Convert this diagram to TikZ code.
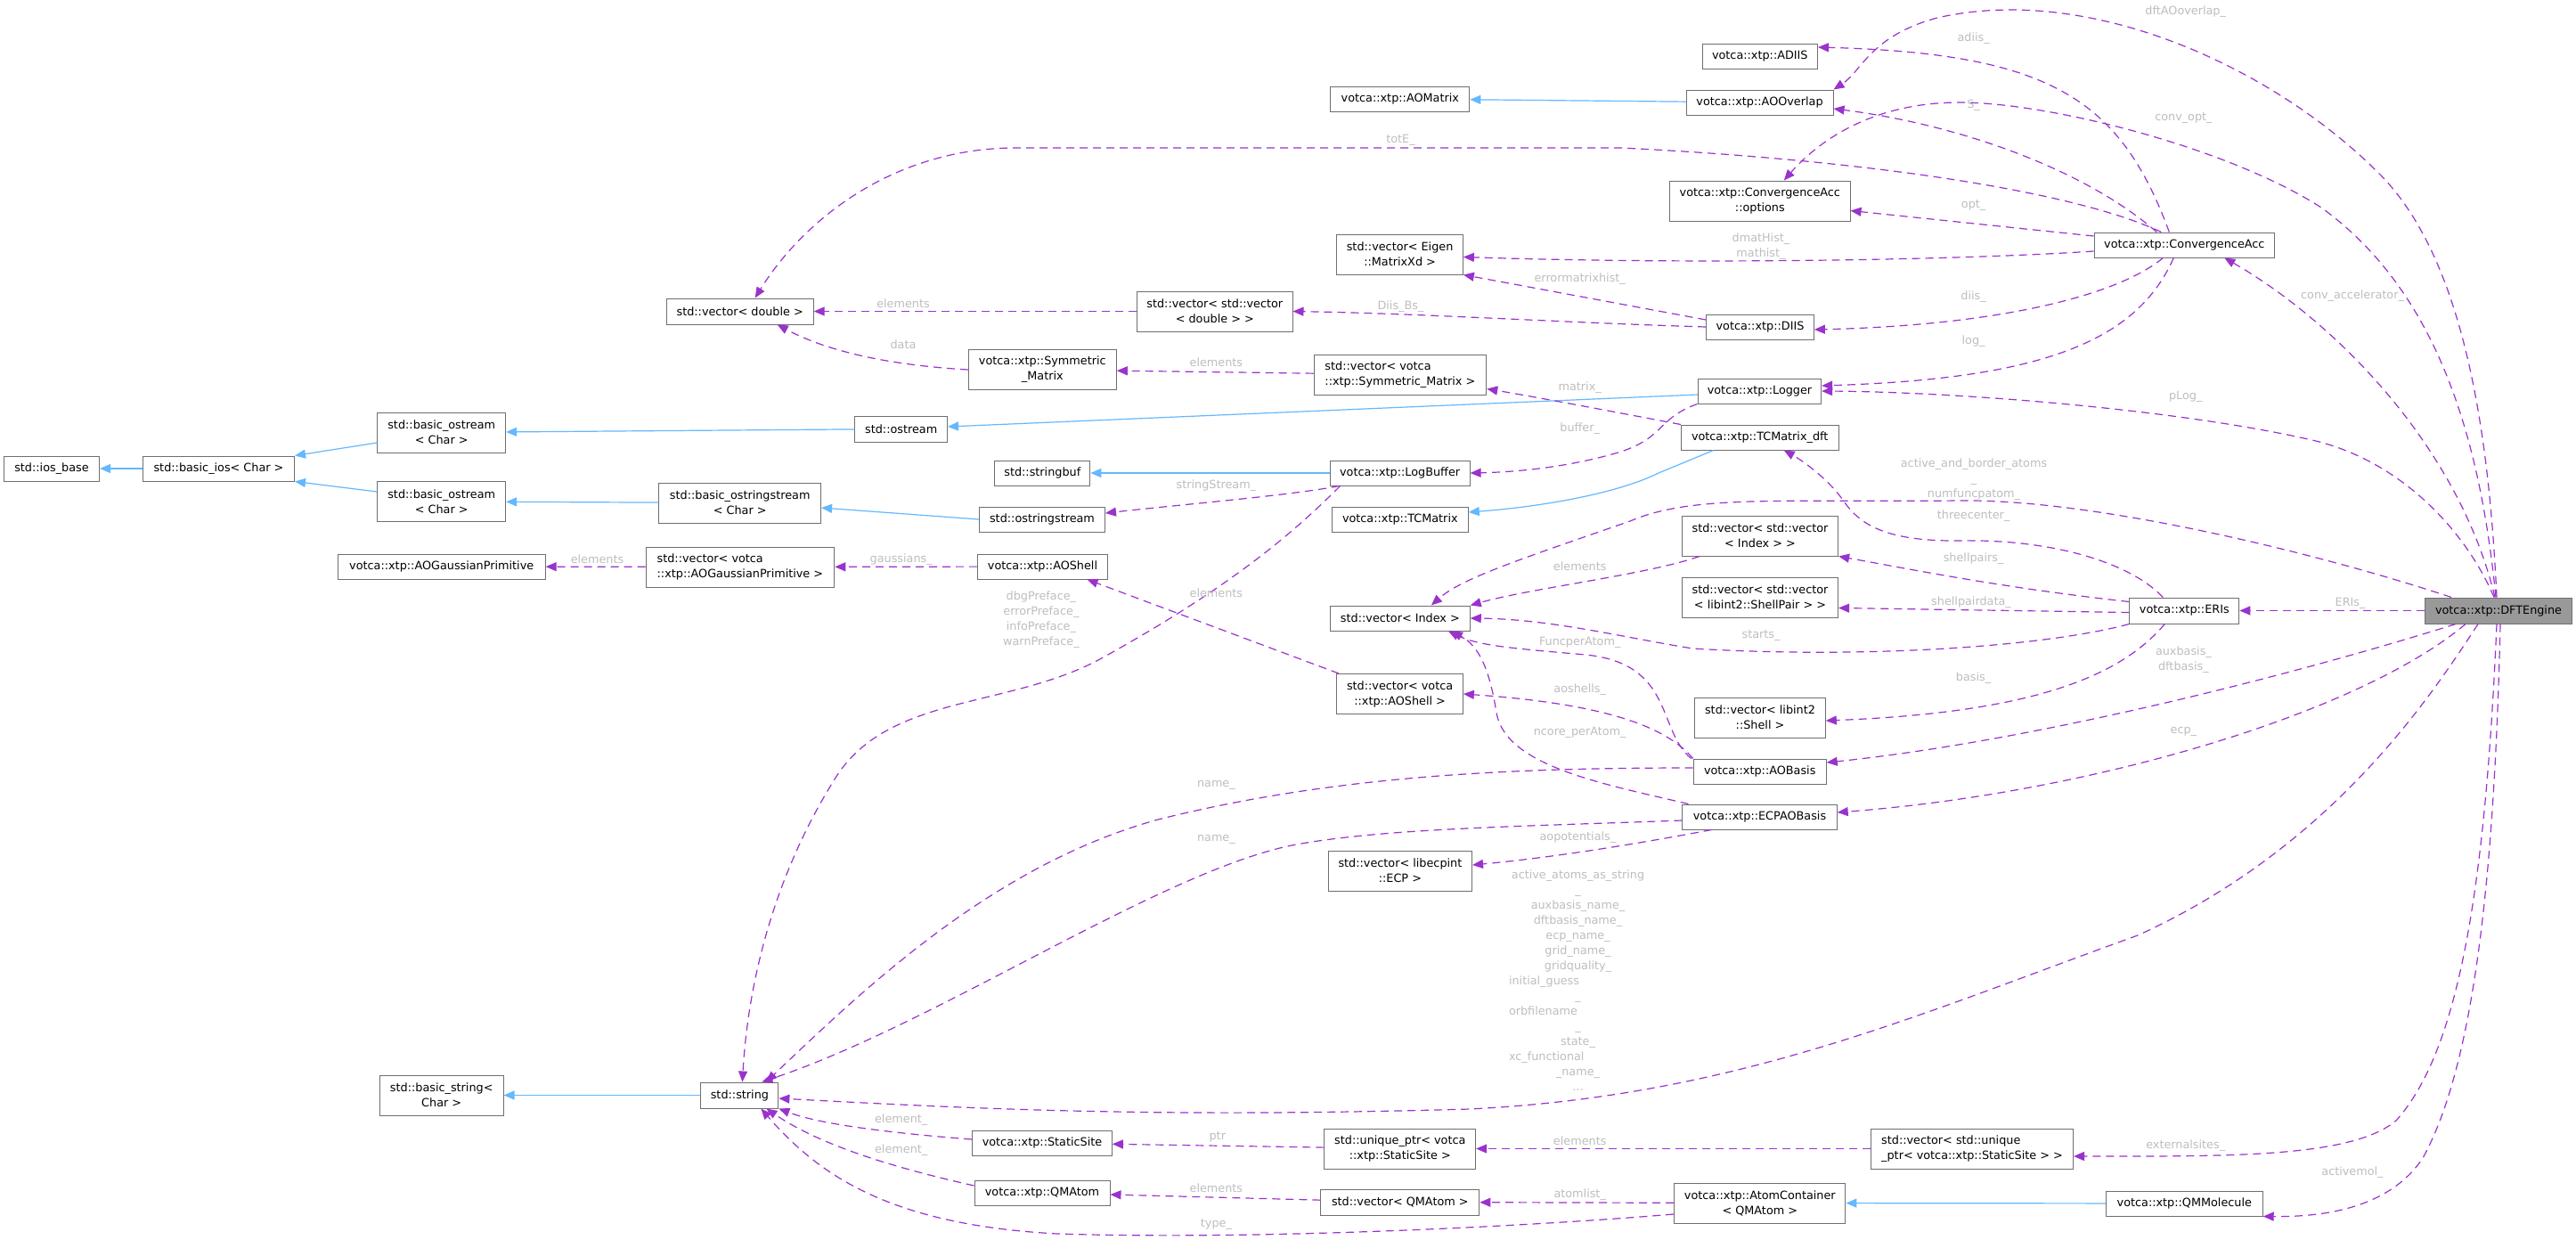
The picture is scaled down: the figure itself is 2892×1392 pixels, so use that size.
\documentclass[tikz,border=0pt]{standalone}
\usepackage{fontspec}
\setmainfont{DejaVu Sans}
\usetikzlibrary{arrows.meta}

\definecolor{edgepurple}{HTML}{9A32CD}
\definecolor{inheritblue}{HTML}{63B8FF}
\definecolor{boxborder}{HTML}{6E6E6E}
\definecolor{mainfill}{HTML}{999999}
\definecolor{labelgray}{HTML}{BEBEBE}

\newcommand{\dotfont}{\fontsize{12.8}{17}\selectfont}

\begin{document}
\begin{tikzpicture}[x=1pt, y=-1pt,
    % Node styles
    cls/.style={draw=boxborder, line width=1pt, fill=white, inner sep=0pt, align=center, font=\dotfont, minimum height=28pt},
    cls2/.style={cls, minimum height=45pt},
    main/.style={cls, fill=mainfill},
    lbl/.style={inner sep=0pt, font=\dotfont, text=labelgray, align=center},
    % Arrow styles
    inherit/.style={-{Triangle[length=12pt,width=10pt]}, line width=1.2pt, draw=inheritblue},
    usage/.style={-{Triangle[length=12pt,width=10pt]}, line width=1.2pt, draw=edgepurple, dash pattern=on 9pt off 6pt},
  ]
  \path[use as bounding box, fill=white] (0,0) rectangle (2892,1392);

  % Classes, left part
  \node[cls, minimum width=107pt] (iosbase) at (58,526) {std::ios\_base};
  \node[cls, minimum width=170pt] (basicios) at (245.5,526) {std::basic\_ios< Char >};
  \node[cls2, minimum width=144pt] (ostreamA) at (495.7,485.5) {std::basic\_ostream\\< Char >};
  \node[cls2, minimum width=144pt] (ostreamB) at (495.7,563) {std::basic\_ostream\\< Char >};
  \node[cls, minimum width=233pt] (gaussprim) at (495.7,636) {votca::xtp::AOGaussianPrimitive};
  \node[cls2, minimum width=138.7pt] (basicstring) at (495.7,1229.5) {std::basic\_string<\\Char >};
  \node[cls, minimum width=165pt, minimum height=29pt] (vecdouble) at (830.7,349.5) {std::vector< double >};
  \node[cls2, minimum width=181.7pt] (ostringbase) at (830.7,564.5) {std::basic\_ostringstream\\< Char >};
  \node[cls2, minimum width=211.8pt, align=left] (vecgauss) at (830.9,636.5) {std::vector< votca\\::xtp::AOGaussianPrimitive >};
  \node[cls, minimum width=87pt, minimum height=29pt] (stdstring) at (830.4,1229.5) {std::string};
  \node[cls, minimum width=103.6pt, minimum height=29pt] (ostream) at (1011.7,481.5) {std::ostream};
  \node[cls2, minimum width=166pt] (symmat) at (1170.3,415) {votca::xtp::Symmetric\\\_Matrix};
  \node[cls, minimum width=107pt] (stringbuf) at (1170.3,531) {std::stringbuf};
  \node[cls, minimum width=141pt] (ostringstream) at (1170,583) {std::ostringstream};
  \node[cls, minimum width=145.7pt] (aoshell) at (1170.5,636) {votca::xtp::AOShell};
  \node[cls, minimum width=156.7pt] (staticsite) at (1170,1283) {votca::xtp::StaticSite};
  \node[cls, minimum width=152pt] (qmatom) at (1170,1339) {votca::xtp::QMAtom};
  \node[cls2, minimum width=174.4pt] (vecvecdouble) at (1363.8,349.5) {std::vector< std::vector\\< double > >};

  % Classes, middle part
  \node[cls, minimum width=156pt] (aomatrix) at (1571.8,111) {votca::xtp::AOMatrix};
  \node[cls2, minimum width=141.5pt] (veceigen) at (1571.6,285.5) {std::vector< Eigen\\::MatrixXd >};
  \node[cls2, minimum width=193.7pt, align=left] (vecsymmat) at (1571.9,420.5) {std::vector< votca\\::xtp::Symmetric\_Matrix >};
  \node[cls, minimum width=157pt] (logbuffer) at (1571.6,531) {votca::xtp::LogBuffer};
  \node[cls, minimum width=153pt] (tcmatrix) at (1571.8,583) {votca::xtp::TCMatrix};
  \node[cls, minimum width=156.7pt] (vecindex) at (1571.9,694) {std::vector< Index >};
  \node[cls2, minimum width=141.5pt] (vecaoshell) at (1571.6,779) {std::vector< votca\\::xtp::AOShell >};
  \node[cls2, minimum width=161.3pt] (vececp) at (1571.9,977.5) {std::vector< libecpint\\::ECP >};
  \node[cls2, minimum width=169.7pt] (uniqueptr) at (1571.8,1289.5) {std::unique\_ptr< votca\\::xtp::StaticSite >};
  \node[cls, minimum width=178pt, minimum height=29pt] (vecqmatom) at (1571.8,1349.5) {std::vector< QMAtom >};

  \node[cls, minimum width=129.5pt] (adiis) at (1975.8,63) {votca::xtp::ADIIS};
  \node[cls, minimum width=165pt] (aooverlap) at (1975.5,115) {votca::xtp::AOOverlap};
  \node[cls2, minimum width=202.5pt] (options) at (1975.8,225.5) {votca::xtp::ConvergenceAcc\\::options};
  \node[cls, minimum width=120.7pt] (diis) at (1976,367) {votca::xtp::DIIS};
  \node[cls, minimum width=138.3pt] (logger) at (1975.5,439) {votca::xtp::Logger};
  \node[cls, minimum width=176.6pt] (tcdft) at (1975.7,491) {votca::xtp::TCMatrix\_dft};
  \node[cls2, minimum width=175.2pt] (vecvecindex) at (1976,601.5) {std::vector< std::vector\\< Index > >};
  \node[cls2, minimum width=175.2pt] (vecshellpair) at (1976,670.5) {std::vector< std::vector\\< libint2::ShellPair > >};
  \node[cls2, minimum width=146.6pt] (vecshell) at (1976,805.5) {std::vector< libint2\\::Shell >};
  \node[cls, minimum width=149pt] (aobasis) at (1975.7,866) {votca::xtp::AOBasis};
  \node[cls, minimum width=173.4pt] (ecpaobasis) at (1975.5,917) {votca::xtp::ECPAOBasis};
  \node[cls2, minimum width=192.3pt] (atomcontainer) at (1975.8,1350.5) {votca::xtp::AtomContainer\\< QMAtom >};
  \node[cls2, minimum width=227pt, align=left] (vecuniqueptr) at (2214,1289.5) {std::vector< std::unique\\\_ptr< votca::xtp::StaticSite > >};

  % Classes, right part
  \node[cls, minimum width=202.6pt] (convacc) at (2452.3,275) {votca::xtp::ConvergenceAcc};
  \node[cls, minimum width=123pt, minimum height=29pt] (eris) at (2452.3,685.5) {votca::xtp::ERIs};
  \node[cls, minimum width=175.8pt] (qmmolecule) at (2452.3,1351) {votca::xtp::QMMolecule};
  \node[main, minimum width=164.6pt, minimum height=29pt] (dftengine) at (2805,685.5) {votca::xtp::DFTEngine};

  % Inheritance arrows
  \foreach \from/\to in {basicios/iosbase, ostream/ostreamA, ostringbase/ostreamB, logbuffer/stringbuf,
                         stdstring/basicstring, qmmolecule/atomcontainer, aooverlap/aomatrix} {
    \draw[inherit] (\from) -- (\to);
  }
  \draw[inherit] ([yshift=-11.5pt]ostreamA.west) -- (basicios.north east);
  \draw[inherit] ([yshift=11pt]ostreamB.west) -- (basicios.south east);
  \draw[inherit] ([yshift=-4pt]logger.west) -- ([yshift=2.5pt]ostream.east);
  \draw[inherit] (ostringstream.west) -- ([yshift=-5.5pt]ostringbase.east);
  \draw[inherit] ([xshift=-52pt]tcdft.south) -- (1862,531) .. controls (1820,552) and (1740,568) .. ([yshift=8pt]tcmatrix.east);

  % Usage arrows, straight
  \foreach \from/\to in {vecvecdouble/vecdouble, vecsymmat/symmat, aoshell/vecgauss, vecgauss/gaussprim,
                         dftengine/eris, uniqueptr/staticsite, vecqmatom/qmatom, vecuniqueptr/uniqueptr,
                         atomcontainer/vecqmatom} {
    \draw[usage] (\from) -- (\to);
  }
  \draw[usage] ([yshift=10pt]convacc.west) -- ([yshift=-11pt]options.east);
  \draw[usage] ([yshift=8pt]diis.west) -- (veceigen.south east);
  \draw[usage] ([xshift=-68.6pt]vecaoshell.north) -- ([xshift=50pt]aoshell.south);
  \draw[usage] ([yshift=-2pt]eris.west) -- ([yshift=-12pt]vecshellpair.east);

  % Usage arrows, curved
  \draw[usage] (symmat.west) .. controls (1000,410) and (930,395) .. ([xshift=42pt]vecdouble.south);
  \draw[usage] ([xshift=-26pt]convacc.north) .. controls (2330,215) and (2100,180) .. (1820,166) -- (1141,166)
    .. controls (1000,166) and (900,250) .. ([xshift=17pt]vecdouble.north);
  \draw[usage] ([xshift=-17pt]convacc.north) .. controls (2380,110) and (2300,60) .. ([yshift=10pt]adiis.east);
  \draw[usage] ([xshift=-31pt]convacc.north) .. controls (2340,190) and (2200,140) .. ([yshift=-7pt]aooverlap.east);
  \draw[usage] ([yshift=-7pt]convacc.west) .. controls (2200,292) and (1900,297) .. ([yshift=-3pt]veceigen.east);
  \draw[usage] ([xshift=-24pt]convacc.south) .. controls (2380,330) and (2250,365) .. ([yshift=-3pt]diis.east);
  \draw[usage] ([xshift=-12pt]convacc.south) .. controls (2400,380) and (2300,425) .. ([yshift=6pt]logger.east);
  \draw[usage] (diis.west) .. controls (1750,362) and (1600,352) .. (vecvecdouble.east);
  \draw[usage] ([xshift=-2pt]dftengine.north) .. controls (2795,500) and (2770,300) .. (2676,200)
    .. controls (2560,80) and (2350,-20) .. (2175,20) .. controls (2100,40) and (2090,80) .. (aooverlap.north east);
  \draw[usage] ([xshift=-3pt]dftengine.north) .. controls (2785,500) and (2740,330) .. (2606,233)
    .. controls (2500,165) and (2300,115) .. (2200,115) .. controls (2100,115) and (2040,160) .. ([xshift=27pt]options.north);
  \draw[usage] ([xshift=-4pt]dftengine.north) .. controls (2760,500) and (2620,360) .. ([xshift=45pt]convacc.south);
  \draw[usage] ([xshift=-5pt]dftengine.north) .. controls (2770,600) and (2700,520) .. (2600,495)
    .. controls (2450,460) and (2200,440) .. (logger.east);
  \draw[usage] (tcdft.north west) .. controls (1800,460) and (1720,445) .. ([yshift=-16pt]vecsymmat.east);
  \draw[usage] ([xshift=-70pt]logger.south) .. controls (1860,470) and (1870,490) .. (1820,507)
    .. controls (1760,525) and (1700,530) .. (logbuffer.east);
  \draw[usage] ([xshift=-68pt]logbuffer.south) .. controls (1450,556) and (1330,566) .. ([yshift=7pt]ostringstream.east);
  \draw[usage] ([xshift=-67pt]logbuffer.south) .. controls (1450,600) and (1380,660) .. (1233,741)
    .. controls (1130,795) and (1000,780) .. (940,870) .. controls (870,980) and (840,1100) .. ([xshift=3pt]stdstring.north);
  \draw[usage] ([xshift=-68pt]vecvecindex.south) .. controls (1850,645) and (1720,660) .. (vecindex.north east);
  \draw[usage] ([xshift=-53pt]dftengine.north) .. controls (2600,620) and (2350,560) .. (2200,562)
    .. controls (2000,564) and (1900,555) .. (1830,585) .. controls (1700,630) and (1640,650) .. ([xshift=35pt]vecindex.north);
  \draw[usage] ([xshift=-24pt]eris.north) .. controls (2390,630) and (2300,605) .. (2200,607)
    .. controls (2110,608) and (2085,585) .. (2068,560) .. controls (2050,535) and (2020,515) .. ([xshift=27pt]tcdft.south);
  \draw[usage] ([yshift=10pt]eris.west) .. controls (2250,660) and (2150,640) .. (vecvecindex.south east);
  \draw[usage] ([yshift=-15pt]eris.west) .. controls (2300,725) and (2100,740) .. (1900,728)
    .. controls (1820,715) and (1740,695) .. (vecindex.east);
  \draw[usage] ([xshift=-22pt]eris.south) .. controls (2380,760) and (2280,800) .. ([yshift=-3.5pt]vecshell.east);
  \draw[usage] ([xshift=-48pt]dftengine.south) .. controls (2600,750) and (2300,830) .. ([yshift=10pt]aobasis.east);
  \draw[usage] ([xshift=-37pt]dftengine.south) .. controls (2650,800) and (2350,890) .. ([yshift=5pt]ecpaobasis.east);
  \draw[usage] ([xshift=-23pt]dftengine.south) .. controls (2730,780) and (2620,950) .. (2400,1050)
    .. controls (2150,1140) and (1950,1230) .. (1650,1245) .. controls (1300,1255) and (1100,1245) .. ([yshift=-3.5pt]stdstring.east);
  \draw[usage] ([xshift=-77pt]aobasis.north) .. controls (1860,820) and (1880,745) .. (1780,735)
    .. controls (1700,728) and (1660,725) .. ([xshift=54pt]vecindex.south);
  \draw[usage] ([xshift=-75pt]aobasis.north) .. controls (1870,815) and (1800,790) .. (vecaoshell.east);
  \draw[usage] ([xshift=-80pt]ecpaobasis.north) .. controls (1800,880) and (1690,860) .. (1680,800)
    .. controls (1672,750) and (1660,725) .. ([xshift=58pt]vecindex.south);
  \draw[usage] ([xshift=-54pt]ecpaobasis.south) .. controls (1850,945) and (1750,962) .. ([yshift=6.5pt]vececp.east);
  \draw[usage] ([yshift=4pt]aobasis.west) .. controls (1700,862) and (1500,870) .. (1300,920)
    .. controls (1120,970) and (980,1100) .. ([xshift=30pt]stdstring.north);
  \draw[usage] ([yshift=-4pt]ecpaobasis.west) .. controls (1700,928) and (1550,930) .. (1450,949)
    .. controls (1300,980) and (1050,1150) .. ([xshift=25pt]stdstring.north);
  \draw[usage] ([yshift=4pt]staticsite.west) .. controls (1000,1272) and (920,1262) .. (stdstring.south east);
  \draw[usage] ([yshift=8pt]qmatom.west) .. controls (1000,1310) and (920,1285) .. ([xshift=30pt]stdstring.south);
  \draw[usage] ([yshift=-12.5pt]atomcontainer.west) .. controls (1700,1378) and (1400,1392) .. (1187,1385)
    .. controls (1000,1375) and (920,1320) .. ([xshift=24pt]stdstring.south);
  \draw[usage] ([xshift=-2pt]dftengine.south) .. controls (2790,1000) and (2760,1180) .. (2690,1258)
    .. controls (2640,1300) and (2500,1298) .. ([yshift=-8.5pt]vecuniqueptr.east);
  \draw[usage] ([xshift=2pt]dftengine.south) .. controls (2800,1000) and (2775,1200) .. (2720,1300)
    .. controls (2680,1360) and (2600,1366) .. (qmmolecule.south east);

  % Edge labels
  \node[lbl] (l-vvd) at (1014,341) {elements};
  \node[lbl] (l-data) at (1014,387) {data};
  \node[lbl] (l-vsm) at (1365.4,407) {elements};
  \node[lbl] (l-tote) at (1572.5,157) {totE\_};
  \node[lbl] (l-adiis) at (2215.6,43) {adiis\_};
  \node[lbl] (l-dftao) at (2453.7,13) {dftAOoverlap\_};
  \node[lbl] (l-s) at (2215.6,118) {S\_};
  \node[lbl] (l-convopt) at (2451.4,133) {conv\_opt\_};
  \node[lbl] (l-opt) at (2215.6,231) {opt\_};
  \node[lbl] (l-dmat) at (1977,277) {dmatHist\_\\mathist\_};
  \node[lbl] (l-errmat) at (1773.7,313) {errormatrixhist\_};
  \node[lbl] (l-diisbs) at (1572.5,344) {Diis\_Bs\_};
  \node[lbl] (l-diis) at (2215.6,333) {diis\_};
  \node[lbl] (l-log) at (2215.6,383) {log\_};
  \node[lbl] (l-convacc) at (2641,332) {conv\_accelerator\_};
  \node[lbl] (l-plog) at (2453.7,445) {pLog\_};
  \node[lbl] (l-matrix) at (1773.7,435) {matrix\_};
  \node[lbl] (l-buffer) at (1773.7,481) {buffer\_};
  \node[lbl] (l-sstream) at (1365.4,545) {stringStream\_};
  \node[lbl] (l-gauss) at (1011.7,628) {gaussians\_};
  \node[lbl] (l-vgp) at (670.5,628) {elements};
  \node[lbl] (l-vaos) at (1365.4,666) {elements};
  \node[lbl] (l-preface) at (1168.9,695.5) {dbgPreface\_\\errorPreface\_\\infoPreface\_\\warnPreface\_};
  \node[lbl] (l-active) at (2216,538) {active\_and\_border\_atoms\\\_\\numfuncpatom\_};
  \node[lbl] (l-three) at (2215.6,579) {threecenter\_};
  \node[lbl] (l-spairs) at (2215.6,627) {shellpairs\_};
  \node[lbl] (l-spdata) at (2213,676) {shellpairdata\_};
  \node[lbl] (l-vvi) at (1773.7,636) {elements};
  \node[lbl] (l-starts) at (1977,714) {starts\_};
  \node[lbl] (l-funcper) at (1773.7,721) {FuncperAtom\_};
  \node[lbl] (l-eris) at (2638.6,677) {ERIs\_};
  \node[lbl] (l-basis2) at (2451.4,740.5) {auxbasis\_\\dftbasis\_};
  \node[lbl] (l-basis) at (2215.6,761) {basis\_};
  \node[lbl] (l-aoshells) at (1773.7,774) {aoshells\_};
  \node[lbl] (l-ncore) at (1773.7,822) {ncore\_perAtom\_};
  \node[lbl] (l-ecp) at (2451.4,821) {ecp\_};
  \node[lbl] (l-name1) at (1365.4,881) {name\_};
  \node[lbl] (l-name2) at (1365.4,942) {name\_};
  \node[lbl] (l-aopot) at (1771.4,940) {aopotentials\_};
  \node[lbl, text width=155pt] (l-strings) at (1771.5,1101) {active\_atoms\_as\_string\\\_\\auxbasis\_name\_\\dftbasis\_name\_\\ecp\_name\_\\grid\_name\_\\gridquality\_\\initial\_guess\hfill\null\\\_\\orbfilename\hfill\null\\\_\\state\_\\xc\_functional\hfill\null\\\_name\_\\...};
  \node[lbl] (l-elem1) at (1011.7,1257) {element\_};
  \node[lbl] (l-elem2) at (1011.7,1291) {element\_};
  \node[lbl] (l-ptr) at (1366.8,1276) {ptr};
  \node[lbl] (l-vqa) at (1365.4,1334) {elements};
  \node[lbl] (l-type) at (1365.4,1374) {type\_};
  \node[lbl] (l-vup) at (1773.7,1281) {elements};
  \node[lbl] (l-atomlist) at (1773.7,1341) {atomlist\_};
  \node[lbl] (l-ext) at (2453.7,1286) {externalsites\_};
  \node[lbl] (l-activemol) at (2641,1316) {activemol\_};
\end{tikzpicture}
\end{document}
